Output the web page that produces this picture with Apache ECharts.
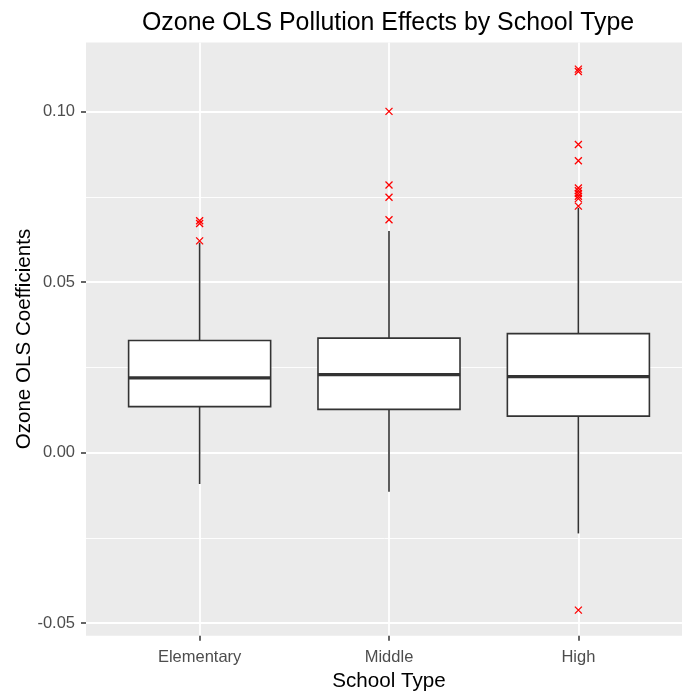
<!DOCTYPE html>
<html>
<head>
<meta charset="utf-8">
<script src="https://cdn.jsdelivr.net/npm/echarts@6/dist/echarts.min.js"></script>
<style>
  html, body { margin: 0; padding: 0; background: #fff; }
  #chart { width: 682px; height: 691px; }
</style>
</head>
<body>
<div id="chart"></div>
<script>
// ---- Data ----
const categories = ['Elementary', 'Middle', 'High'];
const whiskerLow = [-0.0092, -0.0115, -0.0237];
const q1 = [0.0135, 0.0127, 0.0107];
const median = [0.0219, 0.0229, 0.0223];
const q3 = [0.0329, 0.0336, 0.0349];
const whiskerHigh = [0.0616, 0.0650, 0.0718];
const elementaryOutliers = [0.0680, 0.0672, 0.0621];
const middleOutliers = [0.1001, 0.0785, 0.0749, 0.0683];
const highOutliers = [0.1125, 0.1118, 0.0904, 0.0856, 0.0776, 0.0768, 0.0760, 0.0752, 0.0745, 0.0723, -0.0462];
const yTicks = [-0.05, 0, 0.05, 0.10];
const xPositions = categories.map((c, i) => i + 1);

const boxData = categories.map((c, i) => [xPositions[i], whiskerLow[i], q1[i], median[i], q3[i], whiskerHigh[i]]);
const outlierGroups = [elementaryOutliers, middleOutliers, highOutliers];
const outlierData = [];
outlierGroups.forEach((arr, i) => arr.forEach(v => outlierData.push([xPositions[i], v])));

const FONT = "'Liberation Sans', Arial, sans-serif";
const chart = echarts.init(document.getElementById('chart'), null, { renderer: 'canvas' });

const option = {
  backgroundColor: '#ffffff',
  animation: false,
  title: {
    text: 'Ozone OLS Pollution Effects by School Type',
    left: 137,
    top: 6,
    textStyle: { fontFamily: FONT, fontSize: 24.9, fontWeight: 'normal', color: '#000000' }
  },
  grid: {
    left: 86, top: 42.5, width: 606, height: 593.2,
    outerBoundsMode: 'none', containLabel: false,
    show: true, backgroundColor: '#EBEBEB', borderWidth: 0
  },
  xAxis: {
    type: 'value', min: 0.4, max: 3.6, splitNumber: 3, minInterval: 1, maxInterval: 1,
    name: 'School Type', nameLocation: 'middle', nameGap: 31,
    nameTextStyle: { fontFamily: FONT, fontSize: 20.6, color: '#000000' },
    axisLine: { show: false, onZero: false },
    axisTick: { show: true, length: 5, customValues: xPositions, lineStyle: { color: '#333333', width: 1.5 } },
    axisLabel: {
      customValues: xPositions, margin: 13,
      fontFamily: FONT, fontSize: 16.5, color: '#4D4D4D',
      formatter: v => { const i = Math.round(v) - 1; return (Math.abs(v - (i + 1)) < 1e-6 && categories[i]) ? categories[i] : ''; }
    },
    splitLine: { show: true, lineStyle: { color: '#FFFFFF', width: 1.8 } }
  },
  yAxis: {
    type: 'value', min: -0.0537, max: 0.1203, splitNumber: 3, minInterval: 0.05, maxInterval: 0.05,
    name: 'Ozone OLS Coefficients', nameLocation: 'middle', nameGap: 51, nameRotate: 90,
    nameMoveOverlap: false,
    nameTextStyle: { fontFamily: FONT, fontSize: 20.6, color: '#000000' },
    axisLine: { show: false, onZero: false },
    axisTick: { show: true, length: 5, customValues: yTicks, lineStyle: { color: '#333333', width: 1.5 } },
    axisLabel: {
      customValues: yTicks, margin: 11,
      fontFamily: FONT, fontSize: 16.5, color: '#4D4D4D',
      formatter: v => v.toFixed(2)
    },
    splitLine: { show: true, lineStyle: { color: '#FFFFFF', width: 1.8 } },
    minorTick: { show: false, splitNumber: 2 },
    minorSplitLine: { show: true, lineStyle: { color: '#FFFFFF', width: 0.9 } }
  },
  series: [
    {
      type: 'custom',
      data: boxData,
      encode: { x: 0, y: [1, 2, 3, 4, 5] },
      z: 3,
      renderItem: function (params, api) {
        const x = api.value(0);
        const pLo = api.coord([x, api.value(1)]);
        const pQ1 = api.coord([x, api.value(2)]);
        const pMed = api.coord([x, api.value(3)]);
        const pQ3 = api.coord([x, api.value(4)]);
        const pHi = api.coord([x, api.value(5)]);
        const halfW = api.size([0.75, 0])[0] / 2;
        const stroke = '#333333';
        return {
          type: 'group',
          children: [
            { type: 'line', shape: { x1: pHi[0], y1: pHi[1], x2: pQ3[0], y2: pQ3[1] }, style: { stroke, lineWidth: 1.6 } },
            { type: 'line', shape: { x1: pLo[0], y1: pLo[1], x2: pQ1[0], y2: pQ1[1] }, style: { stroke, lineWidth: 1.6 } },
            { type: 'rect', shape: { x: pQ3[0] - halfW, y: pQ3[1], width: 2 * halfW, height: pQ1[1] - pQ3[1] },
              style: { fill: '#FFFFFF', stroke, lineWidth: 1.6 } },
            { type: 'line', shape: { x1: pMed[0] - halfW, y1: pMed[1], x2: pMed[0] + halfW, y2: pMed[1] },
              style: { stroke, lineWidth: 3.2 } }
          ]
        };
      }
    },
    {
      type: 'scatter',
      data: outlierData,
      z: 4,
      symbol: 'path://M0,0L10,10M10,0L0,10',
      symbolSize: 7,
      itemStyle: { color: 'none', borderColor: '#FF0000', borderWidth: 1.3, opacity: 1 }
    }
  ]
};
chart.setOption(option);
</script>
</body>
</html>
